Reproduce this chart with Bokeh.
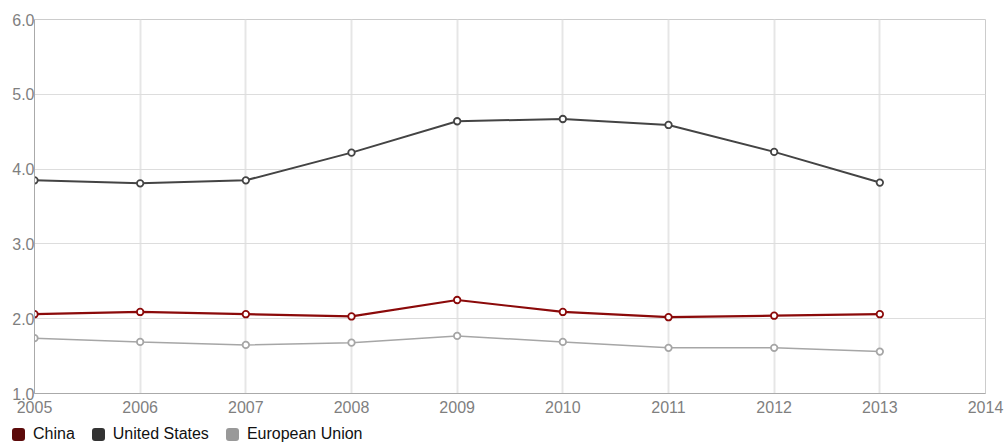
from bokeh.plotting import figure
from bokeh.layouts import column
from bokeh.models import (ColumnDataSource, FixedTicker, NumeralTickFormatter, Div)
from bokeh.embed import file_html
from bokeh.resources import INLINE

years = [2005, 2006, 2007, 2008, 2009, 2010, 2011, 2012, 2013]
china = [2.06, 2.09, 2.06, 2.03, 2.25, 2.09, 2.02, 2.04, 2.06]
united_states = [3.85, 3.81, 3.85, 4.22, 4.64, 4.67, 4.59, 4.23, 3.82]
european_union = [1.74, 1.69, 1.65, 1.68, 1.77, 1.69, 1.61, 1.61, 1.56]
x_ticks = [2005, 2006, 2007, 2008, 2009, 2010, 2011, 2012, 2013, 2014]
y_ticks = [1, 2, 3, 4, 5, 6]
series_names = ["China", "United States", "European Union"]
legend_colors = ["#5c0a0a", "#333333", "#999999"]

FONT = "Liberation Sans"

p = figure(width=1004, height=424, x_range=(2005, 2014), y_range=(1, 6),
           output_backend="svg", toolbar_location=None,
           min_border_left=34, min_border_right=19, min_border_top=19,
           min_border_bottom=31, background_fill_color="white",
           border_fill_color="white", margin=0)

p.outline_line_color = "#cccccc"
p.outline_line_width = 1

p.xgrid.grid_line_color = "#e6e6e6"
p.xgrid.grid_line_width = 2
p.ygrid.grid_line_color = "#dddddd"
p.ygrid.grid_line_width = 1

p.xaxis.ticker = FixedTicker(ticks=x_ticks)
p.yaxis.ticker = FixedTicker(ticks=y_ticks)
p.yaxis.formatter = NumeralTickFormatter(format="0.0")
for ax in (p.xaxis, p.yaxis):
    ax.major_tick_out = 0
    ax.major_tick_in = 0
    ax.minor_tick_out = 0
    ax.minor_tick_in = 0
    ax.axis_line_color = "#aaaaaa"
    ax.axis_line_width = 1
    ax.major_label_text_color = "#7f7f7f"
    ax.major_label_text_font = FONT
    ax.major_label_text_font_size = "16px"
p.yaxis.major_label_standoff = 0
p.xaxis.major_label_standoff = 7

src = ColumnDataSource(dict(year=years, china=china, us=united_states, eu=european_union))

specs = [("us", "#444444", 2), ("eu", "#a6a6a6", 1.5), ("china", "#8b0a0a", 2.2)]
for col, color, w in specs:
    p.line("year", col, source=src, line_color=color, line_width=w)
    p.scatter("year", col, source=src, marker="circle", size=6.5,
              fill_color="white", line_color=color, line_width=1.8)

# legend strip underneath the chart, built from the series names and colours
parts = []
for i, (name, color) in enumerate(zip(series_names, legend_colors)):
    gap = "" if i == 0 else '<span style="display:inline-block;width:17px"></span>'
    parts.append(
        gap
        + f'<span style="display:inline-block;width:13px;height:13px;'
        f'background:{color};border-radius:3px;vertical-align:-2px;'
        f'margin-right:8px"></span>{name}'
    )
html = (f'<div style="font-family:\'{FONT}\';font-size:16px;color:#111111;'
        f'line-height:19px;padding-left:12px;white-space:nowrap">'
        + "".join(parts) + "</div>")
legend_div = Div(text=html, width=1004, height=19, margin=0)

layout = column(p, legend_div, spacing=0)
open("out.html", "w").write(file_html(layout, INLINE))
